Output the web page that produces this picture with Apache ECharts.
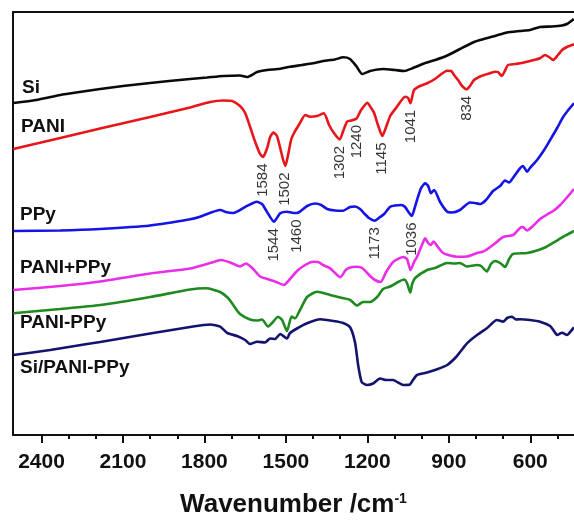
<!DOCTYPE html>
<html>
<head>
<meta charset="utf-8">
<script src="https://cdn.jsdelivr.net/npm/echarts@6/dist/echarts.min.js"></script>
<style>
  html, body { margin: 0; padding: 0; background: #fff; }
  #chart { width: 574px; height: 520px; }
</style>
</head>
<body>
<div id="chart"></div>
<script>
// FTIR spectra, stacked with vertical offsets (transmittance, arbitrary units)
// each point: [wavenumber in cm-1, offset transmittance]
const siSpec = [[2504,332],[2420,335],[2331,340],[2260,343],[2184,346],[2100,349],[2000,352],[1930,354],[1853,356],[1790,357.5],[1731,359],[1669,359.5],[1643,358],[1606,363],[1569,365],[1530,366],[1484,368.3],[1440,370],[1400,371.7],[1363,374],[1320,375.5],[1289,377.7],[1264,376],[1241,369],[1219,361],[1190,364],[1142,366],[1098,365],[1065,364],[1032,367],[991,371.5],[950,375],[906,379.5],[859,386],[807,393],[785,395],[730,399],[686,402.5],[638,404],[601,405],[564,408],[520,408.5],[483,409.5],[465,411],[454,413],[440,416]];

const paniSpec = [[2504,286],[2331,297],[2184,306.5],[2000,318],[1853,327.5],[1779,333],[1731,334.5],[1698,334],[1669,329],[1650,322],[1632,308.3],[1613,293],[1595,281],[1584,278],[1569,287],[1558,298],[1546,302.5],[1533,299],[1521,287],[1510,275],[1502,269],[1492,280],[1481,295],[1470,302],[1448,312],[1429,320],[1411,318.3],[1385,319],[1360,321.7],[1341,310],[1323,302],[1302,295.5],[1289,304],[1275,313.3],[1260,314.5],[1240,316.5],[1223,325],[1200,332.3],[1186,327],[1175,322],[1161,310],[1145,299],[1131,308],[1116,319],[1091,328.3],[1061,338.3],[1050,337],[1041,331.7],[1035,338],[1028,345],[1006,349],[980,351.7],[951,356],[906,364.3],[891,364],[881,360],[866,355],[851,349],[834,345.7],[822,349],[807,355],[785,358.5],[770,360],[748,361.7],[730,363.3],[719,363],[705,359],[692,365],[682,370],[656,371],[627,372.3],[601,374],[564,376.7],[546,380],[531,378],[516,375],[498,380],[483,385],[465,388],[439,390.7]];

const ppySpec = [[2504,204],[2331,204.5],[2184,206],[2000,209.5],[1853,215.7],[1816,218.3],[1742,225],[1718,222.7],[1694,222],[1650,228],[1607,233.3],[1588,231],[1570,223.3],[1544,213.3],[1521,221.7],[1496,223.3],[1477,222.3],[1460,222],[1448,223.3],[1422,229],[1392,231.5],[1370,230],[1348,226],[1319,224.5],[1289,224.3],[1264,228],[1245,228.5],[1227,226],[1212,221.7],[1194,217],[1173,214.3],[1153,218],[1138,221],[1116,228.3],[1098,229.5],[1076,230],[1061,228],[1046,222],[1036,219],[1028,225],[1017,235],[1002,247],[987,251.7],[976,249],[966,241.7],[954,245],[932,233],[906,223.3],[888,222.5],[859,225],[822,232.5],[804,232],[785,231],[763,235],[737,244],[711,249],[693,254.5],[678,252.5],[664,257],[638,266.7],[627,269],[612,263.3],[601,267],[575,275],[549,285],[527,295],[501,307],[479,318],[457,326],[439,331.7]];

const mixSpec = [[2504,145],[2331,149],[2184,153.5],[2000,161.5],[1853,166.5],[1779,172],[1739,175],[1705,172.5],[1669,168.5],[1647,171.5],[1624,167],[1595,158.5],[1569,156],[1540,153.5],[1507,150],[1485,156],[1459,164],[1429,170],[1400,173.3],[1381,173],[1363,170],[1337,166.7],[1319,162],[1300,157.7],[1278,165.5],[1256,168],[1238,168.3],[1219,167],[1190,159],[1172,155],[1151,153],[1131,163],[1105,173],[1068,178],[1054,176],[1041,165],[1028,173],[1017,178.3],[1002,188],[987,196.7],[976,192],[967,190],[956,193.5],[943,189],[921,182],[895,179.5],[870,178.3],[833,178.5],[796,182],[774,183.3],[737,190],[700,198],[663,200],[638,207],[627,208],[612,204.5],[590,209],[564,216],[538,220.5],[513,224.5],[490,230],[465,237.5],[439,246]];

const copolySpec = [[2504,121.7],[2331,126],[2184,130],[2000,138],[1853,145.5],[1794,146.7],[1742,143],[1713,137],[1694,130],[1669,121],[1632,115.5],[1606,114.5],[1588,115.5],[1566,108.5],[1551,112],[1529,118.3],[1514,115],[1496,104],[1479,118.5],[1466,116.7],[1448,125],[1422,138],[1385,143.3],[1337,140],[1300,137.5],[1263,135],[1238,129.5],[1216,133],[1190,133],[1164,138],[1142,146],[1116,148.5],[1087,153],[1065,155.5],[1054,152],[1042,142.5],[1035,151],[1024,157],[980,165],[951,167],[906,172],[877,171.5],[859,172],[833,168.5],[796,170],[781,169],[760,163.5],[745,171],[730,174],[711,172],[693,168],[678,176],[664,181],[612,182],[575,184.5],[546,187.5],[515,192.3],[478,198.3],[439,204]];

const compositeSpec = [[2504,80],[2368,85],[2232,91],[2184,93],[2000,101.5],[1853,108],[1779,110.5],[1742,108.3],[1716,102],[1680,99],[1650,95],[1632,91],[1606,93.3],[1577,92.5],[1558,96.5],[1540,96],[1521,101],[1496,96.5],[1485,102],[1459,106.5],[1422,111.7],[1374,115.7],[1325,114],[1289,112],[1263,107.5],[1245,92],[1234,70],[1221,53],[1201,50],[1179,51.5],[1153,56.5],[1131,55],[1105,55],[1087,52.5],[1068,50],[1043,50.5],[1032,55],[1017,60],[980,62.5],[943,65.7],[906,70],[870,79],[833,91.7],[796,100],[760,106.7],[723,115],[700,113.3],[685,117],[667,118.3],[653,115.5],[638,115.7],[601,115],[564,113.3],[527,109],[513,104],[501,100],[483,102.3],[465,100],[447,105],[439,107.7]];

const seriesNames = ['Si', 'PANI', 'PPy', 'PANI+PPy', 'PANI-PPy', 'Si/PANI-PPy'];
const seriesColors = ['#0a0a0a', '#e8161b', '#1414e6', '#ea2de6', '#1f8a1f', '#14146e'];

// band positions marked on the PANI and PPy traces
const paniPeaks = [1584, 1502, 1302, 1240, 1145, 1041, 834];
const ppyPeaks = [1544, 1460, 1173, 1036];

// wavenumber axis ticks
const majorTicks = [2400, 2100, 1800, 1500, 1200, 900, 600];
const minorTicks = [2300, 2200, 2000, 1900, 1700, 1600, 1400, 1300, 1100, 1000, 800, 700, 500];

// visible wavenumber window (high end on the left)
const WN_MIN = 439;
const WN_MAX = 2505;

const FONT = 'Liberation Sans';
const INK = '#111';

const specs = [siSpec, paniSpec, ppySpec, mixSpec, copolySpec, compositeSpec];

function valueAt(spec, wn) {
  const p = spec.find(d => d[0] === wn);
  return p ? p[1] : null;
}

function peakLabels(spec, peaks) {
  return {
    type: 'scatter',
    silent: true,
    z: 5,
    symbolSize: 1,
    itemStyle: { color: 'rgba(0,0,0,0)' },
    data: peaks.map(w => [w, valueAt(spec, w)]),
    label: {
      show: true,
      position: 'bottom',
      distance: 6,
      rotate: 90,
      align: 'right',
      verticalAlign: 'middle',
      formatter: p => String(p.value[0]),
      fontFamily: FONT,
      fontSize: 15,
      color: '#000'
    }
  };
}

const lineSeries = specs.map((spec, i) => ({
  name: seriesNames[i],
  type: 'line',
  data: spec,
  showSymbol: false,
  symbol: 'none',
  smooth: 0.2,
  lineStyle: { width: 2.6, color: seriesColors[i] },
  z: 3
}));

// series names written at the left end of each trace
const nameSpots = [
  { x: 22, y: 87.5 },
  { x: 21, y: 127 },
  { x: 20, y: 215 },
  { x: 20, y: 267.5 },
  { x: 20, y: 323 },
  { x: 20, y: 367.5 }
];

const chart = echarts.init(document.getElementById('chart'), null, { renderer: 'canvas' });

const plainAxis = {
  type: 'value',
  inverse: true,
  min: WN_MIN,
  max: WN_MAX,
  splitLine: { show: false }
};

chart.setOption({
  animation: false,
  backgroundColor: '#fff',
  grid: { left: 13, right: 0, top: 12, bottom: 85, containLabel: false, outerBoundsMode: 'none' },
  xAxis: [
    Object.assign({}, plainAxis, {
      position: 'bottom',
      axisLine: { show: true, lineStyle: { color: INK, width: 2 } },
      axisTick: { show: true, customValues: majorTicks, length: 8, lineStyle: { color: INK, width: 2 } },
      axisLabel: {
        customValues: majorTicks, margin: 17,
        formatter: v => String(v),
        fontFamily: FONT, fontSize: 21, fontWeight: 'bold', color: INK
      },
      name: '{t|Wavenumber /cm}{s|-1}',
      nameLocation: 'middle',
      nameGap: 57,
      nameTextStyle: {
        rich: {
          t: { fontFamily: FONT, fontSize: 26, fontWeight: 'bold', color: INK },
          s: { fontFamily: FONT, fontSize: 14, fontWeight: 'bold', color: INK, verticalAlign: 'top' }
        }
      }
    }),
    Object.assign({}, plainAxis, {
      position: 'bottom',
      axisLine: { show: false },
      axisTick: { show: true, customValues: minorTicks, length: 4, lineStyle: { color: INK, width: 2 } },
      axisLabel: { show: false }
    }),
    Object.assign({}, plainAxis, {
      position: 'top',
      axisLine: { show: true, lineStyle: { color: INK, width: 2 } },
      axisTick: { show: false },
      axisLabel: { show: false }
    })
  ],
  yAxis: {
    type: 'value',
    min: 0,
    max: 423,
    axisLine: { show: true, lineStyle: { color: INK, width: 2 } },
    axisTick: { show: false },
    axisLabel: { show: false },
    splitLine: { show: false }
  },
  graphic: nameSpots.map((p, i) => ({
    type: 'text',
    x: p.x,
    y: p.y,
    z: 10,
    style: {
      text: seriesNames[i],
      fill: INK,
      font: 'bold 19px "' + FONT + '"',
      verticalAlign: 'middle'
    }
  })),
  series: lineSeries.concat([
    peakLabels(paniSpec, paniPeaks),
    peakLabels(ppySpec, ppyPeaks)
  ])
});
</script>
</body>
</html>
